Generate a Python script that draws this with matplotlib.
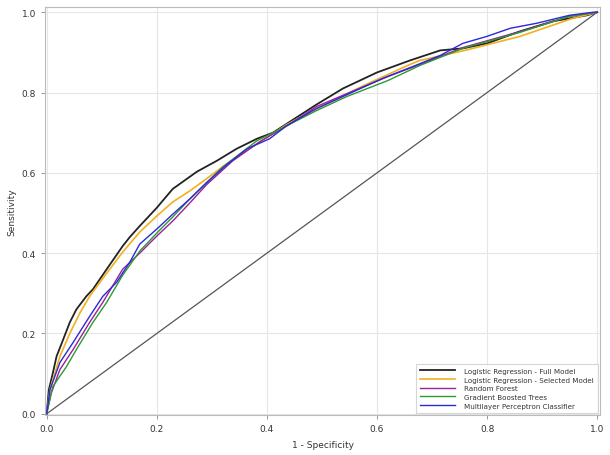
import matplotlib

matplotlib.use("Agg")
import matplotlib.pyplot as plt

# ROC curves (1 - specificity, sensitivity)
full_fpr = [0.0, 0.004, 0.011, 0.018, 0.03, 0.042, 0.054, 0.072, 0.084, 0.109, 0.138,
            0.151, 0.169, 0.2, 0.229, 0.273, 0.309, 0.345, 0.382, 0.411, 0.442, 0.49,
            0.538, 0.6, 0.66, 0.715, 0.756, 0.8, 0.86, 0.92, 0.982, 1.0]
full_tpr = [0.0, 0.06, 0.10, 0.143, 0.185, 0.2275, 0.26, 0.2925, 0.31, 0.36, 0.4175,
            0.44, 0.4675, 0.513, 0.56, 0.603, 0.63, 0.66, 0.685, 0.70, 0.7275, 0.77,
            0.81, 0.85, 0.88, 0.905, 0.91, 0.9225, 0.9525, 0.9775, 0.9925, 1.0]

sel_fpr = [0.0, 0.006, 0.024, 0.042, 0.06, 0.078, 0.109, 0.138, 0.169, 0.2, 0.229,
           0.26, 0.29, 0.327, 0.35, 0.382, 0.436, 0.49, 0.58, 0.66, 0.678, 0.76,
           0.86, 0.956, 1.0]
sel_tpr = [0.0, 0.06, 0.1425, 0.20, 0.25, 0.2925, 0.35, 0.4025, 0.4525, 0.4925, 0.5275,
           0.555, 0.585, 0.6225, 0.6425, 0.6725, 0.72, 0.76, 0.82, 0.87, 0.88, 0.905,
           0.94, 0.985, 1.0]

rf_fpr = [0.0, 0.008, 0.024, 0.048, 0.078, 0.102, 0.138, 0.169, 0.2, 0.229, 0.26,
          0.29, 0.338, 0.387, 0.44, 0.49, 0.55, 0.62, 0.678, 0.756, 0.86, 0.95, 1.0]
rf_tpr = [0.0, 0.05, 0.11, 0.16, 0.2275, 0.2775, 0.36, 0.40, 0.4425, 0.48, 0.525,
          0.57, 0.63, 0.6775, 0.72, 0.765, 0.80, 0.84, 0.87, 0.912, 0.952, 0.99, 1.0]

gbt_fpr = [0.0, 0.011, 0.036, 0.054, 0.084, 0.109, 0.138, 0.169, 0.2, 0.229, 0.26,
           0.32, 0.382, 0.44, 0.49, 0.545, 0.62, 0.678, 0.756, 0.86, 0.95, 1.0]
gbt_tpr = [0.0, 0.0675, 0.1175, 0.16, 0.2275, 0.2775, 0.345, 0.405, 0.45, 0.49, 0.535,
           0.615, 0.68, 0.72, 0.755, 0.79, 0.83, 0.8675, 0.91, 0.95, 0.99, 1.0]

mlp_fpr = [0.0, 0.006, 0.024, 0.048, 0.078, 0.102, 0.127, 0.151, 0.169, 0.2, 0.229,
           0.26, 0.29, 0.327, 0.364, 0.405, 0.436, 0.49, 0.55, 0.61, 0.67, 0.715,
           0.756, 0.8, 0.842, 0.89, 0.95, 0.993, 1.0]
mlp_tpr = [0.0, 0.06, 0.1275, 0.1775, 0.2425, 0.2925, 0.3275, 0.3775, 0.4225, 0.46, 0.497,
           0.535, 0.575, 0.62, 0.66, 0.685, 0.7175, 0.76, 0.7975, 0.835, 0.8675,
           0.8925, 0.9225, 0.94, 0.96, 0.9725, 0.9925, 1.0, 1.0]

curves = [
    ("Logistic Regression - Full Model", full_fpr, full_tpr, "#222222", 1.3),
    ("Logistic Regression - Selected Model", sel_fpr, sel_tpr, "#f2b01e", 1.2),
    ("Random Forest", rf_fpr, rf_tpr, "#9a1f9e", 1.0),
    ("Gradient Boosted Trees", gbt_fpr, gbt_tpr, "#2e9a2e", 1.0),
    ("Multilayer Perceptron Classifier", mlp_fpr, mlp_tpr, "#2a2ad6", 1.0),
]

TXT = "#333333"
GRID = "#e6e6e6"

fig = plt.figure(figsize=(6.1, 4.56), dpi=100)
ax = fig.add_axes([45 / 610, 1 - 416 / 456, 555 / 610, 408 / 456])

ax.plot([0, 1], [0, 1], color="#555555", lw=0.9, zorder=1)
for label, fx, ty, col, lw in curves:
    ax.plot(fx, ty, color=col, lw=lw, label=label, zorder=2)

ticks = [0.0, 0.2, 0.4, 0.6, 0.8, 1.0]
ax.set_xticks(ticks)
ax.set_yticks(ticks)
ax.set_xticklabels([f"{t:.1f}" for t in ticks])
ax.set_yticklabels([f"{t:.1f}" for t in ticks])
ax.set_xlim(-0.003, 1.005)
ax.set_ylim(-0.003, 1.013)
ax.grid(True, color=GRID, lw=0.8)
ax.set_axisbelow(True)
ax.tick_params(labelsize=6.5, colors="#888888", labelcolor=TXT, length=3, width=0.6)
for s in ax.spines.values():
    s.set_color("#bbbbbb")
    s.set_linewidth(0.8)

ax.set_xlabel("1 - Specificity", fontsize=6.5, color=TXT, labelpad=5)
ax.set_ylabel("Sensitivity", fontsize=6.5, color=TXT, labelpad=4)

leg = ax.legend(loc="lower right", fontsize=5.1, frameon=True, fancybox=False,
                handlelength=5.0, borderpad=0.6, labelspacing=0.38,
                borderaxespad=0.3, handletextpad=1.2)
leg.get_frame().set_edgecolor("#cccccc")
leg.get_frame().set_linewidth(0.8)
for t in leg.get_texts():
    t.set_color(TXT)

fig.savefig("out.png", dpi=100)
